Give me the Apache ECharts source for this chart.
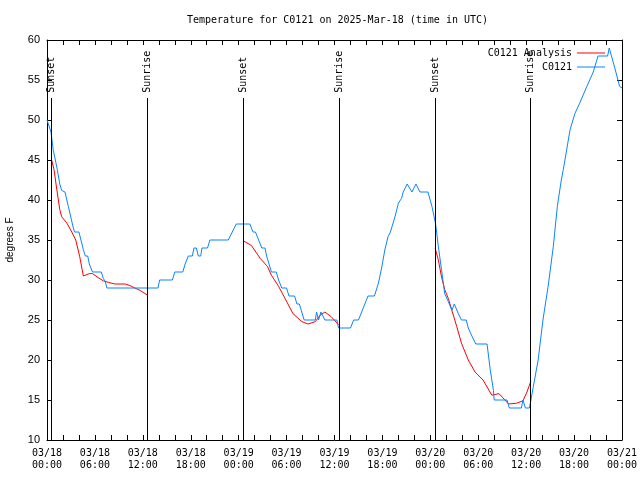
<!DOCTYPE html>
<html>
<head>
<meta charset="utf-8">
<script src="https://cdn.jsdelivr.net/npm/echarts@6/dist/echarts.min.js"></script>
<style>html,body{margin:0;padding:0;background:#fff}#c{width:640px;height:480px}</style>
</head>
<body>
<div id="c"></div>
<script>
// Hours since 2025-03-18 00:00 UTC
const obsHours = [0,0.25,0.5,0.79,1.05,1.29,1.6,1.84,2.25,2.67,3.3,3.45,4.0,4.55,4.8,5.1,5.3,5.5,5.7,6.8,7.05,7.3,7.5,13.9,14.1,15.7,16.0,17.0,17.3,17.5,17.7,18.2,18.4,18.7,18.95,19.25,19.4,20.1,20.4,22.7,23.2,23.7,25.4,25.8,26.1,26.5,26.9,27.3,27.5,27.8,28.1,28.7,29.0,29.2,29.4,30.0,30.3,31.0,31.3,31.6,31.9,32.2,33.6,33.75,34.0,34.3,34.5,34.8,36.3,36.5,38.0,38.4,39.0,39.4,39.8,40.2,41.0,41.5,41.9,42.3,42.7,43.0,43.2,43.6,44.0,44.4,44.6,45.1,45.7,46.2,46.7,47.7,48.2,48.6,48.7,49.0,49.4,49.8,50.25,50.7,51.0,51.2,51.5,51.9,52.5,52.75,53.2,53.7,55.1,55.5,55.9,56.0,57.6,57.9,59.4,59.6,59.9,60.4,60.6,60.9,61.5,62.1,62.75,63.4,63.9,64.4,64.65,65.5,66.1,66.7,67.6,68.4,69.0,70.2,70.4,70.6,71.1,71.7,72];
const obsTemps = [50,49.8,48.5,46.2,45,43.8,42,41.2,41,39.2,36.5,36,36,33.8,33,33,32,32,31,31,30.2,29.8,29,29,30,30,31,31,32,32,33,33,34,34,33,33,34,34,35,35,36,37,37,36,36,35,34,34,33,32,31,31,30,30,29,29,28,28,27,27,26,25,25,26,25,26,26,25,25,24,24,25,25,26,27,28,28,29.6,31.5,33.75,35.4,36,36,38,39.6,40.2,41,42,41,42,41,41,39.2,37.3,36.7,34.2,31.3,28.3,27.3,26.2,27,27,25.8,25,25,24,23,22,22,18.8,16.2,15,15,14,14,15,14,14,15,16.7,20,25,29.2,34.2,39.2,42.5,43.8,48.8,50.8,52.1,54.2,56,58,58,59,59,56.5,54.2,54];

const anaHours = [0.58,0.88,1.2,1.6,1.84,2.5,3.1,3.6,4.1,4.55,5.3,5.7,6.4,7.05,7.7,8.5,9.8,10.4,11.0,11.65,12.6,
  12.61,
  24.6,25.6,26.7,27.6,28.1,29.0,29.8,30.8,31.9,32.7,33.6,34.2,34.8,35.6,36.5,
  36.51,
  48.6,49.0,49.4,49.8,50.25,50.7,51.3,51.9,52.75,53.6,54.6,55.7,56.6,57.8,58.8,59.6,60.1,60.6];
const anaTemps = [45,43.8,41.5,38.8,37.9,37.1,36,35,32.9,30.5,30.8,30.8,30.3,29.9,29.7,29.5,29.5,29.3,29,28.7,28.1,
  null,
  34.9,34.3,32.7,31.7,30.6,29.2,27.7,25.8,24.8,24.5,24.8,25.6,26.0,25.4,24.4,
  null,
  34,32.5,30.4,28.8,27.7,26.2,24.2,22.1,20,18.5,17.5,15.6,15.8,14.5,14.6,14.9,16,17.4];

const sunHours = [0.58,12.55,24.6,36.6,48.6,60.55];
const sunNames = ['Sunset','Sunrise','Sunset','Sunrise','Sunset','Sunrise'];

const yTicks = {min:10, max:60, step:5};
const xTicks = {min:0, max:72, step:2, labelStep:6};

const titleText = 'Temperature for C0121 on 2025-Mar-18 (time in UTC)';
const yName = 'degrees F';
const seriesNames = ['C0121 Analysis','C0121'];

const MONO = 'DejaVu Sans Mono';
const SANS = 'Liberation Sans';

function pad(n){return (n<10?'0':'')+n;}
function xLabel(v){
  if (Math.abs(v % xTicks.labelStep) > 1e-6) return '';
  const d = 18 + Math.floor(v/24);
  return '03/' + d + '\n' + pad(v % 24) + ':00';
}

const obsData = obsHours.map((h,i)=>[h, obsTemps[i]]);
const anaData = anaHours.map((h,i)=>[h, anaTemps[i] === null ? '-' : anaTemps[i]]);
const sunLabelData = sunHours.map((h,i)=>({value:[h, 53.4], name:sunNames[i]}));
const sunLines = sunHours.map(h=>[{coord:[h, 52.75]},{coord:[h, yTicks.min]}]);

const chart = echarts.init(document.getElementById('c'), null, {renderer:'canvas'});
const axisCommon = {
  axisLine:{show:true, onZero:false, lineStyle:{color:'#000', width:1}},
  axisTick:{show:true, inside:true, length:5, lineStyle:{color:'#000'}},
  splitLine:{show:false}
};
chart.setOption({
  animation:false,
  backgroundColor:'#fff',
  title:{text:titleText, left:182, top:10,
    textStyle:{fontFamily:MONO, fontSize:10, fontWeight:'normal', color:'#000'}},
  legend:[
    {data:[{name:seriesNames[0], icon:'rect'}], right:30, top:43, align:'right', itemWidth:28, itemHeight:1,
     textStyle:{fontFamily:MONO, fontSize:10, color:'#000'}},
    {data:[{name:seriesNames[1], icon:'rect'}], right:30, top:57, align:'right', itemWidth:28, itemHeight:1,
     textStyle:{fontFamily:MONO, fontSize:10, color:'#000'}}
  ],
  grid:{left:47, right:18, top:40, bottom:40, containLabel:false, outerBoundsMode:'none'},
  xAxis:[
    Object.assign({type:'value', position:'bottom', min:xTicks.min, max:xTicks.max, interval:xTicks.step,
      axisLabel:{formatter:xLabel, showMinLabel:true, showMaxLabel:true, margin:7,
        fontFamily:MONO, fontSize:10, lineHeight:12, color:'#000'}}, axisCommon),
    Object.assign({type:'value', position:'top', min:xTicks.min, max:xTicks.max, interval:xTicks.step,
      axisLabel:{show:false}}, axisCommon)
  ],
  yAxis:[
    Object.assign({type:'value', position:'left', min:yTicks.min, max:yTicks.max, interval:yTicks.step,
      name:yName, nameLocation:'middle', nameGap:32, nameRotate:90,
      nameTextStyle:{fontFamily:SANS, fontSize:10, color:'#000'},
      axisLabel:{margin:7, fontFamily:SANS, fontSize:11, color:'#000'}}, axisCommon),
    Object.assign({type:'value', position:'right', min:yTicks.min, max:yTicks.max, interval:yTicks.step,
      axisLabel:{show:false}}, axisCommon)
  ],
  series:[
    {type:'scatter', name:'sun', data:sunLabelData, symbolSize:1, itemStyle:{color:'rgba(0,0,0,0)'}, silent:true, z:1,
     label:{show:true, formatter:'{b}', position:'inside', rotate:90, align:'left', verticalAlign:'middle',
       fontFamily:MONO, fontSize:10, color:'#000', opacity:1},
     markLine:{silent:true, symbol:['none','none'], animation:false, label:{show:false},
       lineStyle:{color:'#000', width:1, type:'solid'}, data:sunLines}},
    {type:'line', name:seriesNames[0], data:anaData, showSymbol:false, symbol:'none', z:2,
     color:'#ff0000', lineStyle:{color:'#ff0000', width:1}, connectNulls:false},
    {type:'line', name:seriesNames[1], data:obsData, showSymbol:false, symbol:'none', z:3,
     color:'#0a84ff', lineStyle:{color:'#0a84ff', width:1}}
  ]
});
</script>
</body>
</html>
